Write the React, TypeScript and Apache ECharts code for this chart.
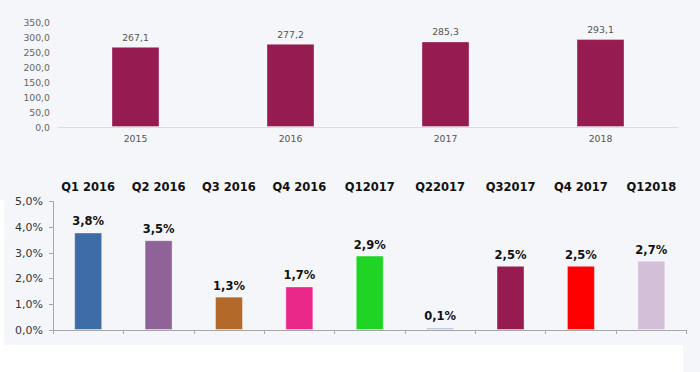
import React, { useEffect, useRef } from "react";
import * as echarts from "echarts";

const years = ["2015", "2016", "2017", "2018"];
const yearValues = [267.1, 277.2, 285.3, 293.1];

const quarters = ["Q1 2016", "Q2 2016", "Q3 2016", "Q4 2016", "Q12017", "Q22017", "Q32017", "Q4 2017", "Q12018"];
const quarterValues = [3.8, 3.5, 1.3, 1.7, 2.9, 0.1, 2.5, 2.5, 2.7];
const quarterColors = ["#3d6ca6", "#8f6298", "#b2692a", "#e9288a", "#1fd424", "#a9c1df", "#951b50", "#ff0000", "#d4bfd8"];

const FONT = "'DejaVu Sans', Verdana, sans-serif";
const comma = (v: number, d: number) => v.toFixed(d).replace(".", ",");

export default function App() {
  const ref = useRef<HTMLDivElement>(null);
  useEffect(() => {
    const chart = echarts.init(ref.current!, null, { renderer: "svg" });
    chart.setOption({
      animation: false,
      backgroundColor: "#f4f6f9",
      graphic: [
        { type: "rect", shape: { x: 0, y: 345, width: 683, height: 27 }, style: { fill: "#ffffff" }, z: -10 },
        { type: "rect", shape: { x: 0, y: 200, width: 4, height: 145 }, style: { fill: "#ffffff" }, z: -10 },
      ],
      grid: [
        { left: 58, top: 22, width: 620, height: 105 },
        { left: 53, top: 201.7, width: 633.5, height: 128.3 },
      ],
      xAxis: [
        {
          type: "category",
          gridIndex: 0,
          data: years,
          axisLine: { show: true, lineStyle: { color: "#d9dce3", width: 1 } },
          axisTick: { show: false },
          axisLabel: { color: "#555", fontSize: 9.3, fontFamily: FONT, margin: 7 },
        },
        {
          type: "category",
          gridIndex: 1,
          data: quarters,
          position: "bottom",
          axisLine: { show: true, lineStyle: { color: "#a6a6a6", width: 1 } },
          axisTick: { show: true, length: 4, lineStyle: { color: "#a6a6a6" } },
          axisLabel: { show: false },
        },
        {
          type: "category",
          gridIndex: 1,
          data: quarters,
          position: "top",
          axisLine: { show: false },
          axisTick: { show: false },
          axisLabel: { color: "#111", fontSize: 11.5, fontWeight: "bold", fontFamily: FONT, margin: 9 },
        },
      ],
      yAxis: [
        {
          type: "value",
          gridIndex: 0,
          min: 0,
          max: 350,
          interval: 50,
          splitLine: { show: false },
          axisLine: { show: false },
          axisTick: { show: false },
          axisLabel: { color: "#666", fontSize: 9.3, fontFamily: FONT, margin: 8, formatter: (v: number) => comma(v, 1) },
        },
        {
          type: "value",
          gridIndex: 1,
          min: 0,
          max: 5,
          interval: 1,
          splitLine: { show: false },
          axisLine: { show: true, lineStyle: { color: "#a6a6a6", width: 1 } },
          axisTick: { show: true, length: 4, lineStyle: { color: "#a6a6a6" } },
          axisLabel: { color: "#333", fontSize: 11, fontFamily: FONT, margin: 10, formatter: (v: number) => comma(v, 1) + "%" },
        },
      ],
      series: [
        {
          type: "bar",
          xAxisIndex: 0,
          yAxisIndex: 0,
          data: yearValues,
          barWidth: 48,
          itemStyle: { color: "#951b50", borderColor: "rgba(255,255,255,0.35)", borderWidth: 1 },
          label: {
            show: true,
            position: "top",
            distance: 5,
            color: "#555",
            fontSize: 9.3,
            fontFamily: FONT,
            formatter: (p: any) => comma(p.value, 1),
          },
        },
        {
          type: "bar",
          xAxisIndex: 1,
          yAxisIndex: 1,
          data: quarterValues.map((v, i) => ({ value: v, itemStyle: { color: quarterColors[i] } })),
          barWidth: 28,
          itemStyle: { borderColor: "rgba(255,255,255,0.4)", borderWidth: 1 },
          label: {
            show: true,
            position: "top",
            distance: 5,
            color: "#111",
            fontSize: 11.5,
            fontWeight: "bold",
            fontFamily: FONT,
            formatter: (p: any) => comma(p.value, 1) + "%",
          },
        },
      ],
    });
    return () => chart.dispose();
  }, []);
  return <div ref={ref} style={{ width: 700, height: 372, position: "fixed", left: 0, top: 0 }} />;
}
